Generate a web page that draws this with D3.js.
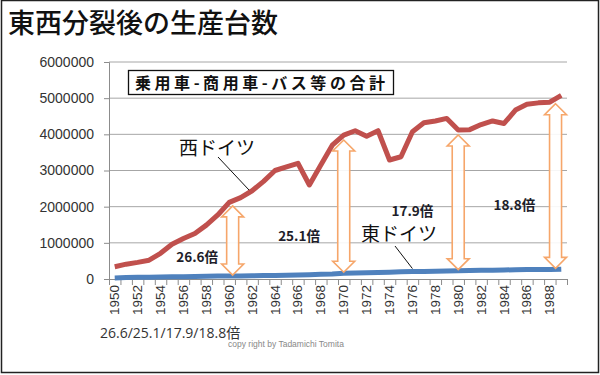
<!DOCTYPE html>
<html>
<head>
<meta charset="utf-8">
<script src="https://cdn.jsdelivr.net/npm/d3@7"></script>
<style>
  body { margin: 0; background: #fff; }
  svg { display: block; font-family: "Noto Sans CJK JP", "Noto Sans", sans-serif; }
</style>
</head>
<body>
<div id="app"></div>
<script>
// data
const years = d3.range(1950, 1990);
const west = [340000, 410000, 460000, 520000, 710000, 960000, 1120000, 1260000, 1490000, 1770000,
  2120000, 2250000, 2440000, 2700000, 3000000, 3100000, 3200000, 2600000, 3150000, 3700000,
  3980000, 4100000, 3950000, 4100000, 3290000, 3380000, 4070000, 4320000, 4370000, 4440000,
  4120000, 4130000, 4270000, 4370000, 4300000, 4670000, 4830000, 4870000, 4890000, 5080000];
const east = [30000, 40000, 45000, 50000, 55000, 60000, 65000, 70000, 75000, 80000,
  80000, 85000, 90000, 95000, 100000, 105000, 110000, 120000, 130000, 140000,
  160000, 165000, 170000, 180000, 190000, 200000, 205000, 210000, 215000, 220000,
  230000, 235000, 240000, 245000, 250000, 255000, 260000, 260000, 260000, 270000];
const yTicks = [0, 1000000, 2000000, 3000000, 4000000, 5000000, 6000000];
const xLabels = d3.range(1950, 1990, 2);
const arrowYears = [1960.3, 1970, 1980, 1988.5];
const ratios = [
  {label: "26.6倍", year: 1957.2, value: 610000},
  {label: "25.1倍", year: 1966.1, value: 1190000},
  {label: "17.9倍", year: 1976.0, value: 1890000},
  {label: "18.8倍", year: 1984.9, value: 2040000}
];

const width = 600, height = 375;
const svg = d3.select('#app').append('svg')
  .attr('width', width)
  .attr('height', height);

// frame
svg.append('rect')
  .attr('x', 1.5).attr('y', 0.5)
  .attr('width', 597).attr('height', 372)
  .attr('fill', '#fff')
  .attr('stroke', '#222')
  .attr('stroke-width', 1.5);

svg.append('text')
  .attr('x', 8).attr('y', 33)
  .attr('font-size', 27)
  .attr('font-weight', 500)
  .attr('fill', '#111')
  .text('東西分裂後の生産台数');

const x = d3.scaleLinear().domain([1949.5, 1989.5]).range([109, 567]);
const y = d3.scaleLinear().domain([0, 6000000]).range([279, 62]);

// gridlines
svg.append('g')
  .selectAll('line')
  .data(yTicks.slice(1))
  .join('line')
  .attr('x1', x.range()[0]).attr('x2', x.range()[1])
  .attr('y1', d => y(d)).attr('y2', d => y(d))
  .attr('stroke', '#a6a6a6')
  .attr('stroke-width', 1);

// y axis
const yAxis = svg.append('g')
  .attr('transform', `translate(${x.range()[0]},0)`)
  .call(d3.axisLeft(y).tickValues(yTicks).tickSize(5).tickFormat(d3.format('d')));
yAxis.select('.domain').attr('stroke', '#8c8c8c');
yAxis.selectAll('.tick line').attr('stroke', '#8c8c8c');
yAxis.selectAll('text')
  .attr('font-family', 'Arial, "Liberation Sans", sans-serif')
  .attr('font-size', 14)
  .attr('fill', '#333')
  .attr('x', -15);

// x axis: ticks between categories, labels every other year
const xAxis = svg.append('g')
  .attr('transform', `translate(0,${y(0)})`)
  .call(d3.axisBottom(x).tickValues(d3.range(1949.5, 1990, 1)).tickSize(6).tickFormat(''));
xAxis.select('.domain').attr('stroke', '#8c8c8c');
xAxis.selectAll('.tick line').attr('stroke', '#8c8c8c');

svg.append('g')
  .selectAll('text')
  .data(xLabels)
  .join('text')
  .attr('transform', d => `translate(${x(d) + 4.5},${y(0) + 6}) rotate(-90)`)
  .attr('text-anchor', 'end')
  .attr('font-family', 'Arial, "Liberation Sans", sans-serif')
  .attr('font-size', 13.5)
  .attr('fill', '#333')
  .text(d => d);

// lines
const line = vals => d3.line()
  .x((d, i) => x(years[i]))
  .y(d => y(d))(vals);

svg.append('path')
  .attr('d', line(west))
  .attr('fill', 'none')
  .attr('stroke', '#c0504d')
  .attr('stroke-width', 5)
  .attr('stroke-linejoin', 'round');

svg.append('path')
  .attr('d', line(east))
  .attr('fill', 'none')
  .attr('stroke', '#4f81bd')
  .attr('stroke-width', 5)
  .attr('stroke-linejoin', 'round');

// double arrows between the two lines
const valueAt = (arr, yr) => {
  const i = Math.min(Math.floor(yr - 1950), arr.length - 2);
  const t = yr - 1950 - i;
  return arr[i] * (1 - t) + arr[i + 1] * t;
};
function arrowPath(cx, top, bottom) {
  const hw = 11, sw = 6, hh = 11;
  return `M${cx},${top} L${cx + hw},${top + hh} L${cx + sw},${top + hh} L${cx + sw},${bottom - hh}` +
    ` L${cx + hw},${bottom - hh} L${cx},${bottom} L${cx - hw},${bottom - hh} L${cx - sw},${bottom - hh}` +
    ` L${cx - sw},${top + hh} L${cx - hw},${top + hh} Z`;
}
svg.append('g')
  .selectAll('path')
  .data(arrowYears)
  .join('path')
  .attr('d', d => arrowPath(x(d), y(valueAt(west, d)) + 5, y(valueAt(east, d)) - 1))
  .attr('fill', '#fff')
  .attr('fill-opacity', 0.9)
  .attr('stroke', '#f6a66a')
  .attr('stroke-width', 1.6);

// ratio labels
svg.append('g')
  .selectAll('text')
  .data(ratios)
  .join('text')
  .attr('x', d => x(d.year))
  .attr('y', d => y(d.value) + 5)
  .attr('text-anchor', 'middle')
  .attr('font-size', 13.5)
  .attr('font-weight', 'bold')
  .attr('fill', '#1e1e2a')
  .text(d => d.label);

// series labels with leader lines
svg.append('line')
  .attr('x1', 218).attr('y1', 157).attr('x2', x(1962) - 3).attr('y2', y(valueAt(west, 1961.8)) - 2)
  .attr('stroke', '#111').attr('stroke-width', 1);
svg.append('text')
  .attr('x', 179).attr('y', 155)
  .attr('font-size', 19)
  .attr('fill', '#111')
  .text('西ドイツ');

svg.append('line')
  .attr('x1', 395).attr('y1', 246).attr('x2', x(1976)).attr('y2', y(valueAt(east, 1976)) - 3)
  .attr('stroke', '#111').attr('stroke-width', 1);
svg.append('text')
  .attr('x', 361).attr('y', 241)
  .attr('font-size', 19)
  .attr('fill', '#111')
  .text('東ドイツ');

// caption box
svg.append('rect')
  .attr('x', 128.5).attr('y', 70.5)
  .attr('width', 265).attr('height', 24)
  .attr('fill', '#fff')
  .attr('stroke', '#111')
  .attr('stroke-width', 1.3);
svg.append('text')
  .attr('x', 135).attr('y', 88.5)
  .attr('font-size', 16)
  .attr('font-weight', 'bold')
  .attr('fill', '#111')
  .attr('textLength', 250)
  .attr('lengthAdjust', 'spacing')
  .text('乗用車-商用車-バス等の合計');

// footer
svg.append('text')
  .attr('x', 100).attr('y', 338)
  .attr('font-family', '"Open Sans", "Noto Sans CJK JP", sans-serif')
  .attr('font-size', 14)
  .attr('fill', '#333')
  .text('26.6/25.1/17.9/18.8倍');
svg.append('text')
  .attr('x', 228).attr('y', 347)
  .attr('font-family', 'Arial, "Liberation Sans", sans-serif')
  .attr('font-size', 8.5)
  .attr('fill', '#888')
  .text('copy right by Tadamichi Tomita');
</script>
</body>
</html>
